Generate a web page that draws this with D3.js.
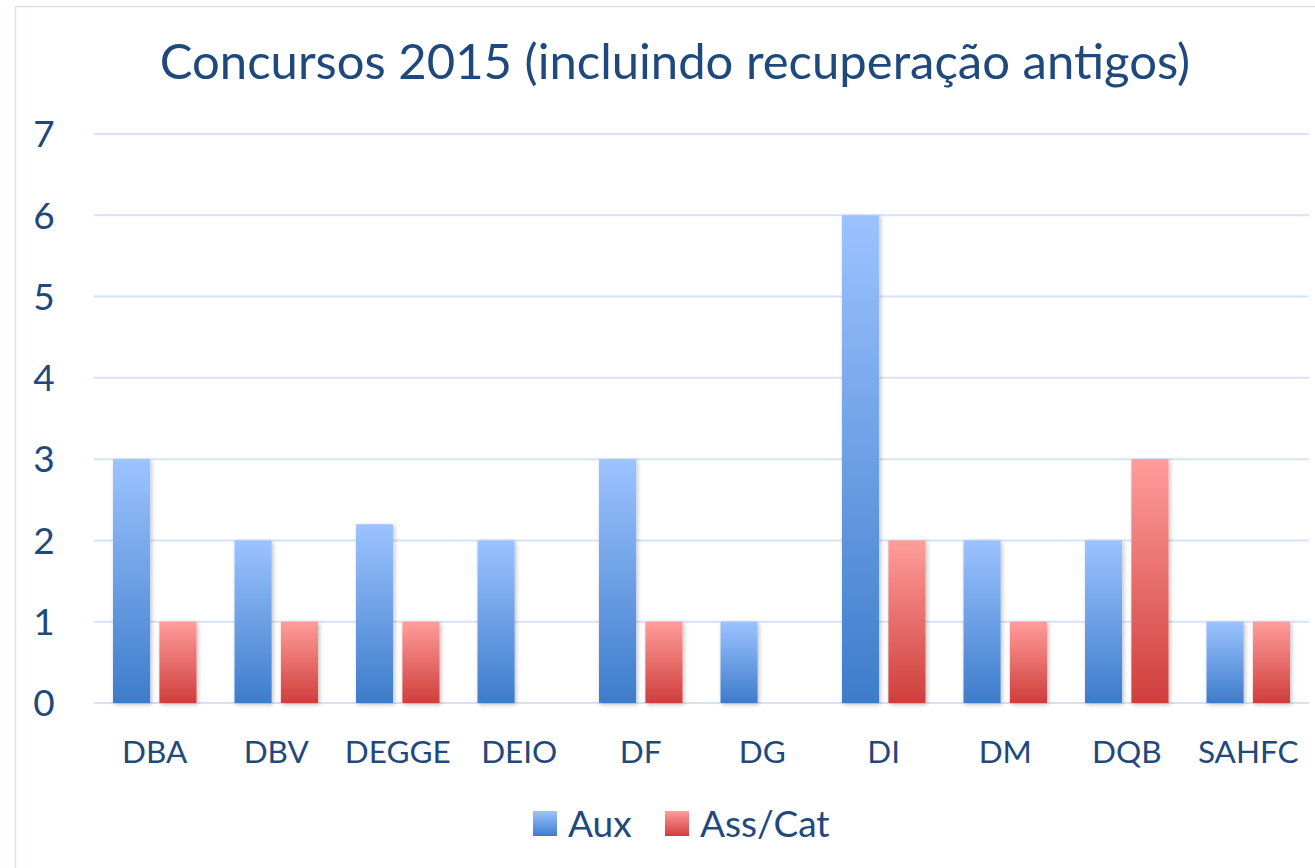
<!DOCTYPE html>
<html><head><meta charset="utf-8">
<script src="https://cdn.jsdelivr.net/npm/d3@7"></script>
<style>body{margin:0;background:#fff}svg{display:block}</style>
</head><body>
<script>
const categories = ["DBA","DBV","DEGGE","DEIO","DF","DG","DI","DM","DQB","SAHFC"];
const auxValues = [3,2,2.2,2,3,1,6,2,2,1];
const assCatValues = [1,1,1,0,1,0,2,1,3,1];
const seriesNames = ["Aux","Ass/Cat"];
const yTicks = [0,1,2,3,4,5,6,7];
const title = "Concursos 2015 (incluindo recuperação antigos)";

const W = 1315, H = 868;
const font = "Lato, 'Open Sans', sans-serif";
const textColor = "#1f497d";
const svg = d3.select("body").append("svg").attr("width", W).attr("height", H);
const defs = svg.append("defs");
function grad(id, top, bottom){
  const g = defs.append("linearGradient").attr("id", id).attr("x1",0).attr("y1",0).attr("x2",0).attr("y2",1);
  g.append("stop").attr("offset","0%").attr("stop-color",top);
  g.append("stop").attr("offset","100%").attr("stop-color",bottom);
}
grad("gBlue","#9cc3ff","#3d7ccb");
grad("gRed","#ff9d9b","#cf3e3b");
const f = defs.append("filter").attr("id","shadow").attr("x","-20%").attr("y","-5%").attr("width","140%").attr("height","115%");
f.append("feDropShadow").attr("dx",1.5).attr("dy",1.5).attr("stdDeviation",2).attr("flood-color","#000").attr("flood-opacity",0.25);

// chart border
svg.append("rect").attr("x",15.5).attr("y",6.5).attr("width",W+10).attr("height",H+10)
  .attr("fill","none").attr("stroke","#d5e3f3").attr("stroke-width",1.5);

const x0 = d3.scaleBand().domain(categories).range([94, 1309]).paddingInner(0).paddingOuter(0);
const y = d3.scaleLinear().domain([0,7]).range([703, 134]);
const x1 = d3.scaleBand().domain(seriesNames).range([19, x0.bandwidth()-19]).paddingInner(0.2);

// gridlines
svg.append("g").selectAll("line").data(yTicks).join("line")
  .attr("x1",94).attr("x2",1309).attr("y1",d=>y(d)).attr("y2",d=>y(d))
  .attr("stroke","#d7e3f4").attr("stroke-width",2);

// y labels
svg.append("g").selectAll("text").data(yTicks).join("text")
  .attr("x",44).attr("y",d=>y(d)).attr("dy","0.36em").attr("text-anchor","middle")
  .attr("font-family",font).attr("font-size",37).attr("fill",textColor).text(d=>d);

// bars
const data = categories.map((c,i)=>({c, vals:[{s:"Aux",v:auxValues[i]},{s:"Ass/Cat",v:assCatValues[i]}]}));
const groups = svg.append("g").selectAll("g").data(data).join("g").attr("transform",d=>`translate(${x0(d.c)},0)`);
groups.selectAll("rect").data(d=>d.vals.filter(e=>e.v>0)).join("rect")
  .attr("x",d=>x1(d.s)).attr("width",x1.bandwidth())
  .attr("y",d=>y(d.v)).attr("height",d=>y(0)-y(d.v))
  .attr("fill",d=>d.s==="Aux"?"url(#gBlue)":"url(#gRed)")
  .attr("filter","url(#shadow)");

// x labels
svg.append("g").selectAll("text").data(categories).join("text")
  .attr("x",d=>x0(d)+x0.bandwidth()/2).attr("y",763).attr("text-anchor","middle")
  .attr("font-family",font).attr("font-size",31.5).attr("fill",textColor).text(d=>d);

// title
svg.append("text").attr("x",675).attr("y",79).attr("text-anchor","middle")
  .attr("font-family",font).attr("font-size",49).attr("fill",textColor).text(title);

// legend
const legend = [{n:"Aux",fill:"url(#gBlue)",x:533},{n:"Ass/Cat",fill:"url(#gRed)",x:665}];
const lg = svg.append("g").selectAll("g").data(legend).join("g");
lg.append("rect").attr("x",d=>d.x).attr("y",811).attr("width",24).attr("height",25).attr("fill",d=>d.fill);
lg.append("text").attr("x",d=>d.x+35).attr("y",837).attr("font-family",font).attr("font-size",37)
  .attr("fill",textColor).text(d=>d.n);
</script>
</body></html>
